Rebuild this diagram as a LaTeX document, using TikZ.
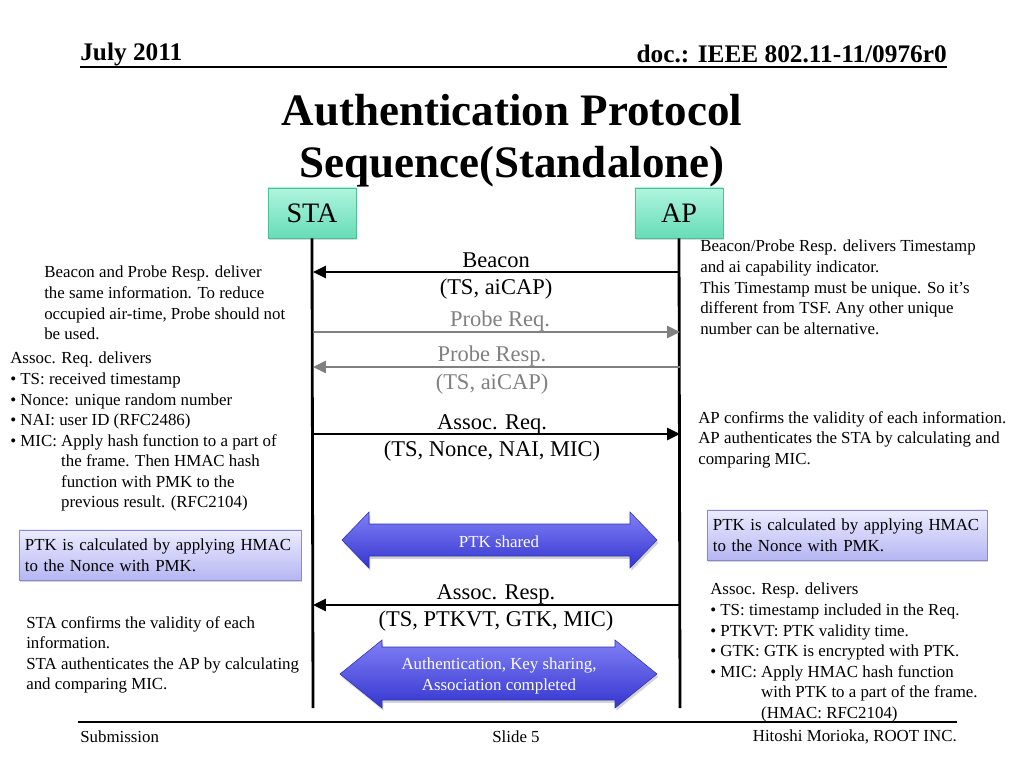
\documentclass[tikz,border=0pt]{standalone}
\usepackage{fontspec}
\setmainfont{Liberation Serif}
\usepackage{xcolor}
\usetikzlibrary{arrows.meta, shadows}
\definecolor{cEntT}{HTML}{AFF5DE}
\definecolor{cEntL}{HTML}{66DDB6}
\definecolor{cEntB}{HTML}{4CBF98}
\definecolor{cCalcT}{HTML}{ECECFF}
\definecolor{cCalcL}{HTML}{B6B6F3}
\definecolor{cCalcB}{HTML}{8888D6}
\definecolor{cBlueT}{HTML}{8080F7}
\definecolor{cBlueL}{HTML}{3535CF}
\definecolor{cBlueB}{HTML}{3030B8}
\definecolor{cProbe}{HTML}{808080}

\begin{document}
\begin{tikzpicture}[
  x=0.025cm, y=-0.025cm,
  every node/.style={font=\fontsize{12}{14.6}\selectfont, inner sep=0pt},
  ent/.style={draw=cEntB, top color=cEntT, bottom color=cEntL, minimum width=2.2cm, minimum height=1.25cm, font=\fontsize{20}{24}\selectfont, drop shadow={shadow xshift=1pt, shadow yshift=-1.5pt, opacity=0.3}},
  life/.style={line width=2pt},
  msg/.style={-{Triangle[length=0.32cm, width=0.3cm]}, line width=1.5pt},
  probe/.style={msg, draw=cProbe},
  lbl/.style={align=center, font=\fontsize{16}{19.8}\selectfont},
  note/.style={align=left, anchor=north west},
  calcbox/.style={draw=cCalcB, top color=cCalcT, bottom color=cCalcL, align=left, text width=6.75cm, inner xsep=0.15cm, minimum height=1.25cm, drop shadow={shadow xshift=1pt, shadow yshift=-1.5pt, opacity=0.35}},
  big/.style={draw=cBlueB, top color=cBlueT, bottom color=cBlueL, drop shadow={shadow xshift=1pt, shadow yshift=-2pt, opacity=0.35}},
  inarrow/.style={text=white, align=center}
]
\useasboundingbox (0,0) rectangle (1024,768);

% Header and footer
\node[anchor=west, font=\bfseries\fontsize{18}{20}\selectfont] (date) at (80,54) {July 2011};
\node[anchor=east, font=\bfseries\fontsize{18}{20}\selectfont] (docno) at (947,54) {doc.: IEEE 802.11-11/0976r0};
\draw[line width=1pt] (date.west |- 0,67) -- (docno.east |- 0,67);
\node[align=center, font=\bfseries\fontsize{32}{37}\selectfont] (title) at (512,141) {Authentication Protocol\\Sequence(Standalone)};
\node[anchor=west] (subm) at (80,737) {Submission};
\node (slide) at (516,737) {Slide 5};
\node[anchor=east] (author) at (957,737) {Hitoshi Morioka, ROOT INC.};
\draw[line width=1.3pt] (78,722) -- (author.east |- 0,722);

% Entities and lifelines
\node[ent] (sta) at (312,213) {STA};
\node[ent] (ap) at (679,213) {AP};
\coordinate (staEnd) at (313,708);
\coordinate (apEnd) at (680,708);
\draw[life] (sta.south) -- (staEnd);
\draw[life] (ap.south) -- (apEnd);

% Messages
\coordinate (s1) at (313,272); \coordinate (a1) at (680,272);
\coordinate (s2) at (313,332); \coordinate (a2) at (680,332);
\coordinate (s3) at (313,367); \coordinate (a3) at (680,367);
\coordinate (s4) at (313,434); \coordinate (a4) at (680,434);
\coordinate (s5) at (313,605); \coordinate (a5) at (680,605);
\draw[msg] (a1) -- (s1);
\draw[probe] (s2) -- (a2);
\draw[probe] (a3) -- (s3);
\draw[msg] (s4) -- (a4);
\draw[msg] (a5) -- (s5);
\node[lbl] (beacon) at (496,276) {Beacon\\(TS, aiCAP)};
\node[lbl, text=cProbe] (preq) at (500,321) {Probe Req.};
\node[lbl, text=cProbe] (presp) at (492,370) {Probe Resp.\\(TS, aiCAP)};
\node[lbl] (areq) at (492,438) {Assoc. Req.\\(TS, Nonce, NAI, MIC)};
\node[lbl] (aresp) at (496,608) {Assoc. Resp.\\(TS, PTKVT, GTK, MIC)};

% Shared state arrows
\path[big] (342,540) -- (369,512) -- (369,524) -- (630,524) -- (630,512) -- (657,540)
  -- (630,568) -- (630,556) -- (369,556) -- (369,568) -- cycle;
\node[inarrow] (ptk) at (499,542) {PTK shared};
\path[big] (340,674) -- (382,640) -- (382,647) -- (615,647) -- (615,640) -- (657,674)
  -- (615,708) -- (615,700) -- (382,700) -- (382,708) -- cycle;
\node[inarrow] (done) at (499,676) {Authentication, Key sharing,\\Association completed};

% STA side notes
\node[note] (nBeacon) at (44,266) {Beacon and Probe Resp. deliver\\the same information. To reduce\\occupied air-time, Probe should not\\be used.};
\node[note] (nReq) at (10,352) {Assoc. Req. delivers\\\textbullet{} TS: received timestamp\\\textbullet{} Nonce: unique random number\\\textbullet{} NAI: user ID (RFC2486)\\\textbullet{} MIC: Apply hash function to a part of\\\phantom{\textbullet{} MIC: }the frame. Then HMAC hash\\\phantom{\textbullet{} MIC: }function with PMK to the\\\phantom{\textbullet{} MIC: }previous result. (RFC2104)};
\node[calcbox] (staCalc) at (160,555) {PTK is calculated by applying HMAC\\to the Nonce with PMK.};
\node[note] (nStaConf) at (26,616) {STA confirms the validity of each\\information.\\STA authenticates the AP by calculating\\and comparing MIC.};

% AP side notes
\node[note] (nTs) at (700,240) {Beacon/Probe Resp. delivers Timestamp\\and ai capability indicator.\\This Timestamp must be unique. So it’s\\different from TSF. Any other unique\\number can be alternative.};
\node[note] (nApConf) at (698,411) {AP confirms the validity of each information.\\AP authenticates the STA by calculating and\\comparing MIC.};
\node[calcbox, text width=6.7cm] (apCalc) at (847,535) {PTK is calculated by applying HMAC\\to the Nonce with PMK.};
\node[note] (nResp) at (710,583) {Assoc. Resp. delivers\\\textbullet{} TS: timestamp included in the Req.\\\textbullet{} PTKVT: PTK validity time.\\\textbullet{} GTK: GTK is encrypted with PTK.\\\textbullet{} MIC: Apply HMAC hash function\\\phantom{\textbullet{} MIC: }with PTK to a part of the frame.\\\phantom{\textbullet{} MIC: }(HMAC: RFC2104)};
\end{tikzpicture}
\end{document}
